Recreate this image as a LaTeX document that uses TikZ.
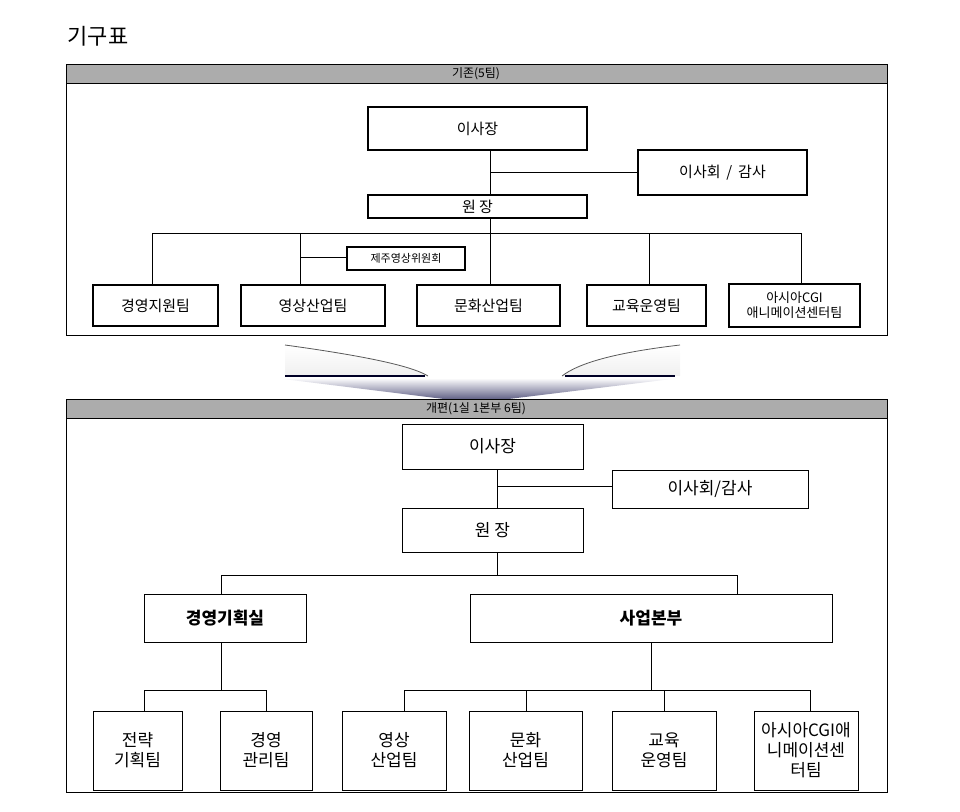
\documentclass[tikz,border=0pt]{standalone}
\usepackage{fontspec}
\setmainfont{Noto Sans CJK KR}
\begin{document}
\begin{tikzpicture}[x=1pt,y=-1pt,
 bx/.style={draw,line width=1.4pt,fill=white,font=\fontsize{15}{17}\selectfont,align=center,inner sep=0pt},
 ln/.style={line width=1pt}]
\useasboundingbox (0,0) rectangle (960,811);
\node[anchor=west,font=\fontsize{22}{26}\selectfont] (title) at (64,36) {기구표};
% top panel
\draw[line width=1pt] (66,64) rectangle (887,335);
\draw[line width=1pt,fill=gray!65] (66,64) rectangle (887,83);
\node[font=\fontsize{12}{14}\selectfont] (h1) at (476,73.5) {기존(5팀)};
\draw[ln] (490,150) -- (490,195);
\draw[ln] (490,172) -- (638,172);
\draw[ln] (490,218) -- (490,233);
\draw[ln] (152,233) -- (801,233);
\foreach \x in {152,300,490,649,801} \draw[ln] (\x,233) -- (\x,285);
\draw[ln] (300,257) -- (347,257);
\node[bx,minimum width=219,minimum height=43] (a1) at (477.5,128.5) {이사장};
\node[bx,minimum width=169,minimum height=45] (a2) at (722.5,172.5) {이사회 \,/\, 감사};
\node[bx,minimum width=219,minimum height=23] (a3) at (477.5,206.5) {원 장};
\node[bx,minimum width=118,minimum height=23,font=\fontsize{11}{13}\selectfont] (a4) at (406,258.5) {제주영상위원회};
\node[bx,minimum width=125,minimum height=41] (b1) at (155.5,305.5) {경영지원팀};
\node[bx,minimum width=144,minimum height=41] (b2) at (313,305.5) {영상산업팀};
\node[bx,minimum width=143,minimum height=41] (b3) at (488.5,305.5) {문화산업팀};
\node[bx,minimum width=119,minimum height=41] (b4) at (646.5,305.5) {교육운영팀};
\node[bx,minimum width=131,minimum height=43,font=\fontsize{13}{15}\selectfont] (b5) at (794.5,305.5) {아시아CGI\\애니메이션센터팀};
% arrow
\shade[top color=white,bottom color=gray!75!blue!70!black] (275,378) -- (680,378) -- (476,403) -- cycle;
\shade[top color=white,bottom color=gray!12] (285,345) .. controls (380,358) and (415,368) .. (428,376) -- (285,376) -- cycle;
\shade[top color=white,bottom color=gray!12] (680,345) .. controls (620,352) and (580,362) .. (562,376) -- (680,376) -- cycle;
\draw[gray!70!black,line width=0.8pt] (285,345) .. controls (380,358) and (415,368) .. (428,376);
\draw[gray!70!black,line width=0.8pt] (680,345) .. controls (620,352) and (580,362) .. (562,376);
\draw[black!85!blue,line width=2.5pt] (285,376) -- (425,376);
\draw[black!85!blue,line width=2.5pt] (565,376) -- (675,376);
% bottom panel
\draw[line width=1pt] (66,399) rectangle (887,792);
\draw[line width=1pt,fill=gray!65] (66,399) rectangle (887,418);
\node[font=\fontsize{12}{14}\selectfont] (h2) at (476,408.5) {개편(1실 1본부 6팀)};
\draw[ln] (497,469) -- (497,508);
\draw[ln] (497,486) -- (612,486);
\draw[ln] (497,552) -- (497,575);
\draw[ln] (221,575) -- (737,575);
\draw[ln] (221,575) -- (221,594);
\draw[ln] (737,575) -- (737,594);
\draw[ln] (221,642) -- (221,690);
\draw[ln] (144,690) -- (266,690);
\draw[ln] (651,642) -- (651,690);
\draw[ln] (404,690) -- (810,690);
\foreach \x in {144,266,404,526,664,810} \draw[ln] (\x,690) -- (\x,711);
\tikzset{bb/.style={draw,line width=0.9pt,fill=white,font=\fontsize{17}{20}\selectfont,align=center,inner sep=0pt}}
\node[bb,minimum width=181,minimum height=45] (c1) at (492.5,446.5) {이사장};
\node[bb,minimum width=196,minimum height=38] (c2) at (710,489) {이사회/감사};
\node[bb,minimum width=181,minimum height=44] (c3) at (492.5,530) {원 장};
\node[bb,minimum width=162,minimum height=48,font=\bfseries\fontsize{17}{20}\selectfont] (d1) at (225,618) {경영기획실};
\node[bb,minimum width=362,minimum height=48,font=\bfseries\fontsize{17}{20}\selectfont] (d2) at (651,618) {사업본부};
\node[bb,minimum width=89,minimum height=79] (e1) at (137.5,750.5) {전략\\기획팀};
\node[bb,minimum width=92,minimum height=79] (e2) at (266,750.5) {경영\\관리팀};
\node[bb,minimum width=104,minimum height=79] (e3) at (394,750.5) {영상\\산업팀};
\node[bb,minimum width=113,minimum height=79] (e4) at (525.5,750.5) {문화\\산업팀};
\node[bb,minimum width=104,minimum height=79] (e5) at (664,750.5) {교육\\운영팀};
\node[bb,minimum width=104,minimum height=79] (e6) at (806,750.5) {아시아CGI애\\니메이션센\\터팀};
\end{tikzpicture}
\end{document}
